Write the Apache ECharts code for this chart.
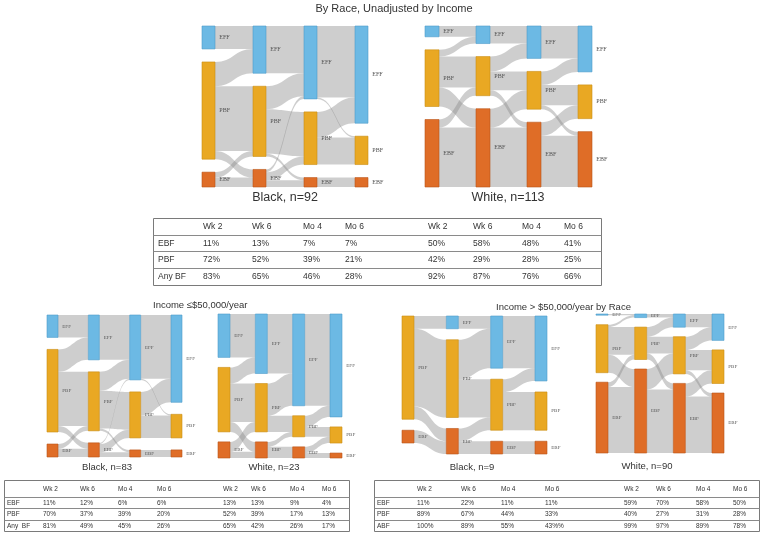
<!DOCTYPE html>
<html><head><meta charset="utf-8">
<script src="https://cdn.jsdelivr.net/npm/echarts@6/dist/echarts.min.js"></script>
<style>html,body{margin:0;padding:0;background:#fff}#c{width:769px;height:541px}</style>
</head><body><div id="c"></div>
<script>
// ---------- categories ----------
const periods = ['Wk 2', 'Wk 6', 'Mo 4', 'Mo 6'];
const states = ['EFF', 'PBF', 'EBF'];

// ---------- table values (%) ----------
const black92EBF = [11, 13, 7, 7];
const black92PBF = [72, 52, 39, 21];
const black92Any = [83, 65, 46, 28];
const white113EBF = [50, 58, 48, 41];
const white113PBF = [42, 29, 28, 25];
const white113Any = [92, 87, 76, 66];
const black83EBF = [11, 12, 6, 6];
const black83PBF = [70, 37, 39, 20];
const black83Any = [81, 49, 45, 26];
const white23EBF = [13, 13, 9, 4];
const white23PBF = [52, 39, 17, 13];
const white23Any = [65, 42, 26, 17];
const black9EBF = [11, 22, 11, 11];
const black9PBF = [89, 67, 44, 33];
const black9ABF = [100, 89, 55, '43%'];
const white90EBF = [59, 70, 58, 50];
const white90PBF = [40, 27, 31, 28];
const white90ABF = [99, 97, 89, 78];

// ---------- sankey flows: [from EFF,PBF,EBF][to EFF,PBF,EBF] per step ----------
const black92Flows = [
  [[17, 0, 0], [18, 48, 6], [0, 4, 7]],
  [[35, 0, 0], [17, 33, 2], [2, 6, 5]],
  [[53, 1, 0], [19, 20, 0], [0, 0, 7]]
];
const white113Flows = [
  [[8, 0, 0], [5, 23, 14], [0, 6, 44]],
  [[13, 0, 0], [11, 14, 4], [0, 14, 44]],
  [[24, 0, 0], [10, 15, 3], [0, 10, 38]]
];
const black83Flows = [
  [[19, 0, 0], [19, 46, 5], [0, 4, 7]],
  [[38, 0, 0], [16, 32, 2], [1, 7, 4]],
  [[54, 1, 0], [20, 19, 0], [0, 0, 6]]
];
const white23Flows = [
  [[35, 0, 0], [13, 31, 8], [0, 8, 5]],
  [[48, 0, 0], [26, 13, 0], [0, 4, 9]],
  [[74, 0, 0], [9, 8, 0], [0, 5, 4]]
];
const black9Flows = [
  [[0, 0, 0], [11, 67, 11], [0, 0, 11]],
  [[11, 0, 0], [34, 33, 0], [0, 11, 11]],
  [[45, 0, 0], [11, 33, 0], [0, 0, 11]]
];
const white90Flows = [
  [[1, 0, 0], [2, 23, 15], [0, 4, 55]],
  [[3, 0, 0], [8, 14, 5], [0, 17, 53]],
  [[11, 0, 0], [11, 17, 3], [0, 11, 47]]
];

// ---------- styles ----------
const nodeColors = { EFF: '#6cb9e4', PBF: '#e9a823', EBF: '#df6d27' };
const nodeBorders = { EFF: '#4f9cc9', PBF: '#c98d14', EBF: '#bb561a' };
const SANS = 'Liberation Sans';
const TXT = '#333';

function sankey(flows, box) {
  const nodes = [], links = [], used = new Set();
  flows.forEach((m, s) => m.forEach((row, i) => row.forEach((v, j) => {
    if (v > 0) {
      const a = states[i] + (s + 1), b = states[j] + (s + 2);
      links.push({ source: a, target: b, value: v });
      used.add(a); used.add(b);
    }
  })));
  for (let c = 1; c <= flows.length + 1; c++) {
    states.forEach(st => {
      const id = st + c;
      if (used.has(id)) nodes.push({ name: id, itemStyle: { color: nodeColors[st], borderColor: nodeBorders[st], borderWidth: 0.6 } });
    });
  }
  return {
    type: 'sankey', left: box.left, top: box.top, width: box.width, height: box.height,
    nodeWidth: box.nodeWidth, nodeGap: box.nodeGap, layoutIterations: 0, draggable: false,
    silent: true, animation: false,
    data: nodes, links: links,
    label: { show: true, position: 'right', distance: 4, fontSize: box.fs, fontFamily: 'Liberation Serif', color: '#555',
      formatter: p => p.name.slice(0, 3) },
    lineStyle: { color: '#8a8a8a', opacity: 0.42, curveness: 0.5 },
    emphasis: { disabled: true }
  };
}

const series = [
  sankey(black92Flows, { left: 202, top: 26, width: 166, height: 161, nodeWidth: 13, nodeGap: 13, fs: 6 }),
  sankey(white113Flows, { left: 425, top: 26, width: 167, height: 161, nodeWidth: 14, nodeGap: 13, fs: 6 }),
  sankey(black83Flows, { left: 47, top: 315, width: 135, height: 142, nodeWidth: 11, nodeGap: 12, fs: 5 }),
  sankey(white23Flows, { left: 218, top: 314, width: 124, height: 144, nodeWidth: 12, nodeGap: 10, fs: 5 }),
  sankey(black9Flows, { left: 402, top: 316, width: 145, height: 138, nodeWidth: 12, nodeGap: 11, fs: 5 }),
  sankey(white90Flows, { left: 596, top: 314, width: 128, height: 139, nodeWidth: 12, nodeGap: 9.5, fs: 5 })
];

// ---------- text & tables ----------
const G = [];
function txt(x, y, s, fs, align) {
  G.push({ type: 'text', x: x, y: y, silent: true,
    style: { text: s, fontSize: fs, fontFamily: SANS, fill: TXT, align: align || 'left', verticalAlign: 'middle' } });
}
function hline(x1, x2, y, c, w) {
  G.push({ type: 'line', silent: true, shape: { x1: x1, y1: y, x2: x2, y2: y }, style: { stroke: c, lineWidth: w } });
}
function table(T, labels, groupA, groupB) {
  G.push({ type: 'rect', silent: true, shape: { x: T.x, y: T.rows[0], width: T.w, height: T.rows[4] - T.rows[0] },
    style: { fill: 'none', stroke: '#7a7a7a', lineWidth: 1 } });
  for (let r = 1; r < 4; r++) hline(T.x, T.x + T.w, T.rows[r], '#8a8a8a', 1);
  const cy = r => (T.rows[r] + T.rows[r + 1]) / 2;
  periods.concat(periods).forEach((p, k) => txt(T.colX[k], cy(0), p, T.fs));
  labels.forEach((lab, r) => {
    txt(T.labelX, cy(r + 1), lab, T.fs);
    groupA[r].forEach((v, k) => txt(T.colX[k], cy(r + 1), v + '%', T.fs));
    groupB[r].forEach((v, k) => txt(T.colX[k + 4], cy(r + 1), v + '%', T.fs));
  });
}

txt(394, 9, 'By Race, Unadjusted by Income', 11, 'center');
txt(285, 198, 'Black, n=92', 12.5, 'center');
txt(508, 198, 'White, n=113', 12.5, 'center');
txt(153, 305, 'Income \u2264$50,000/year', 9.5);
txt(496, 307, 'Income > $50,000/year by Race', 9.5);
txt(107, 467, 'Black, n=83', 9.5, 'center');
txt(274, 467, 'White, n=23', 9.5, 'center');
txt(472, 467, 'Black, n=9', 9.5, 'center');
txt(647, 466, 'White, n=90', 9.5, 'center');

table({ x: 153.5, w: 448, rows: [218.5, 235.5, 251.5, 268.5, 285.5], labelX: 158,
  colX: [203, 252, 303, 345, 428, 473, 522, 564], fs: 8.5 },
  ['EBF', 'PBF', 'Any BF'],
  [black92EBF, black92PBF, black92Any], [white113EBF, white113PBF, white113Any]);
table({ x: 4.5, w: 345, rows: [480.5, 497.5, 508.5, 520.5, 531.5], labelX: 7,
  colX: [43, 80, 118, 157, 223, 251, 290, 322], fs: 6.5 },
  ['EBF', 'PBF', 'Any  BF'],
  [black83EBF, black83PBF, black83Any], [white23EBF, white23PBF, white23Any]);
table({ x: 374.5, w: 385, rows: [480.5, 497.5, 508.5, 520.5, 531.5], labelX: 377,
  colX: [417, 461, 501, 545, 624, 656, 696, 733], fs: 6.5 },
  ['EBF', 'PBF', 'ABF'],
  [black9EBF, black9PBF, black9ABF], [white90EBF, white90PBF, white90ABF]);

const chart = echarts.init(document.getElementById('c'), null, { renderer: 'canvas' });
chart.setOption({ animation: false, backgroundColor: '#fff', series: series, graphic: G });
</script></body></html>
